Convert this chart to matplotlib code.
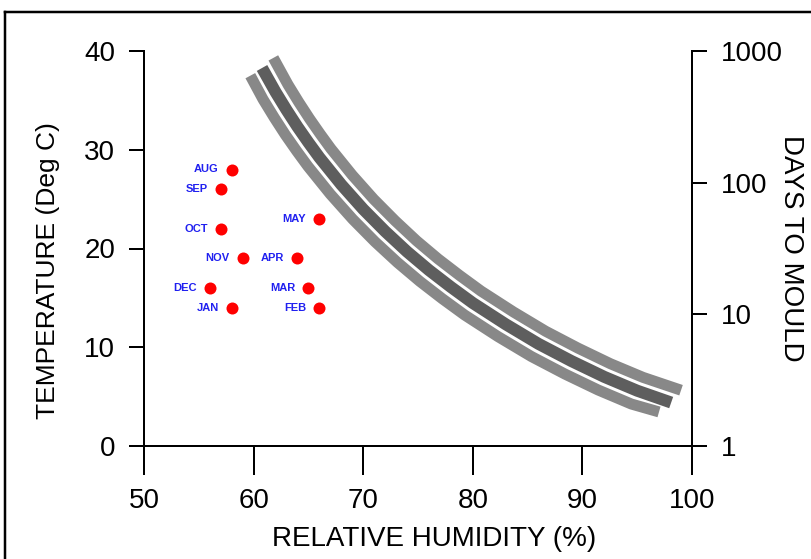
import matplotlib
matplotlib.use("Agg")
import matplotlib.pyplot as plt
from matplotlib.lines import Line2D

# ---------------- data ----------------
months = ["AUG", "SEP", "OCT", "NOV", "DEC", "JAN", "MAY", "APR", "MAR", "FEB"]
month_rh = [58, 57, 57, 59, 56, 58, 66, 64, 65, 66]
month_temp = [28, 26, 22, 19, 16, 14, 23, 19, 16, 14]

# centre isopleth (dark)
mid_rh = [60.77, 62, 63, 64, 65, 66, 68, 70, 72, 74, 76, 78, 80, 83, 86, 89, 92, 95, 98.1]
mid_temp = [38.28, 35.85, 34.04, 32.33, 30.74, 29.22, 26.47, 23.98, 21.74, 19.68,
            17.81, 16.10, 14.48, 12.33, 10.34, 8.60, 7.00, 5.60, 4.40]
# upper / right isopleth (grey)
up_rh = [61.80, 63.14, 64.12, 65.10, 66.08, 67.05, 69.01, 70.96, 72.92, 74.87,
         76.83, 78.79, 80.75, 83.70, 86.65, 89.60, 92.56, 95.53, 99.0]
up_temp = [39.30, 36.59, 34.82, 33.15, 31.59, 30.11, 27.42, 24.99, 22.80, 20.78,
           18.95, 17.28, 15.69, 13.58, 11.62, 9.91, 8.33, 6.95, 5.65]
# lower / left isopleth (grey)
lo_rh = [59.70, 60.86, 61.88, 62.90, 63.92, 64.95, 66.99, 69.04, 71.08, 73.13,
         75.17, 77.21, 79.25, 82.30, 85.35, 88.40, 91.44, 94.47, 96.99]
lo_temp = [37.50, 35.11, 33.26, 31.51, 29.89, 28.33, 25.52, 22.97, 20.68, 18.58,
           16.67, 14.92, 13.27, 11.08, 9.06, 7.29, 5.67, 4.25, 3.45]

x_ticks = [50, 60, 70, 80, 90, 100]
y_ticks = [0, 10, 20, 30, 40]
days_ticks = [1, 10, 100, 1000]

plt.rcParams['font.family'] = ['Liberation Sans', 'DejaVu Sans']

W, H = 811, 559
fig = plt.figure(figsize=(W / 100, H / 100), dpi=100)
ax = fig.add_axes([144 / W, (H - 446) / H, (692 - 144) / W, (446 - 51) / H])

px = 72 / 100  # points per pixel

# curves
for xs, ys, c, w, z in [(lo_rh, lo_temp, "#888888", 11, 2),
                        (up_rh, up_temp, "#888888", 11, 2),
                        (mid_rh, mid_temp, "#5e5e5e", 12, 3)]:
    ax.plot(xs, ys, color=c, lw=w * px, solid_capstyle="butt",
            solid_joinstyle="round", clip_on=False, zorder=z)

# monthly points
ax.plot(month_rh, month_temp, "o", color="#ff0000", ms=12 * px, mec="none", zorder=4)
for m, x, y in zip(months, month_rh, month_temp):
    ax.annotate(m, (x, y), xytext=(-13, 0), textcoords="offset pixels",
                ha="right", va="center", fontsize=8, fontweight="bold",
                color="#2020f0")

ax.set_xlim(50, 100)
ax.set_ylim(0, 40)
ax.set_xticks(x_ticks)
ax.set_yticks(y_ticks)
for s in ["top", "right"]:
    ax.spines[s].set_visible(False)
for s in ["left", "bottom"]:
    ax.spines[s].set_linewidth(2 * px)
ax.tick_params(axis="x", direction="out", length=29 * px, width=2 * px,
               pad=13 * px, labelsize=20)
ax.tick_params(axis="y", direction="out", length=15 * px, width=2 * px,
               pad=14 * px, labelsize=20)

ax2 = ax.twinx()
ax2.set_yscale("log")
ax2.set_ylim(1, 1000)
ax2.set_yticks(days_ticks)
ax2.set_yticklabels([str(t) for t in days_ticks])
ax2.minorticks_off()
for s in ["top", "left", "bottom"]:
    ax2.spines[s].set_visible(False)
ax2.spines["right"].set_linewidth(2 * px)
ax2.tick_params(axis="y", direction="out", length=15 * px, width=2 * px,
                pad=14 * px, labelsize=20)
ax.set_zorder(ax2.get_zorder() + 1)
ax.patch.set_visible(False)

# axis titles
fig.text(434 / W, 1 - 546 / H, "RELATIVE HUMIDITY (%)", fontsize=20,
         ha="center", va="baseline")
fig.text(48 / W, 1 - 271 / H, "TEMPERATURE (Deg C)", fontsize=19,
         ha="center", va="center", rotation=90)
fig.text(791 / W, 1 - 248 / H, "DAYS TO MOULD", fontsize=20,
         ha="center", va="center", rotation=-90)

# figure border (top and left visible)
fig.add_artist(Line2D([5 / W, 1.0], [1 - 12 / H, 1 - 12 / H], transform=fig.transFigure,
                      color="black", lw=2.5 * px))
fig.add_artist(Line2D([5 / W, 5 / W], [0, 1 - 12 / H], transform=fig.transFigure,
                      color="black", lw=2.5 * px))

fig.savefig("out.png", dpi=100)
